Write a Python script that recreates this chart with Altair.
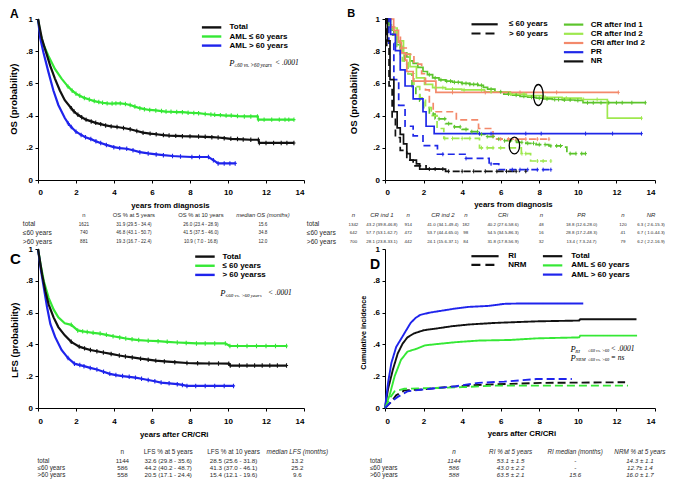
import altair as alt
import pandas as pd

SANS = "Liberation Sans"
SERIF = "Liberation Serif"
BLACK = "#111111"
GREEN = "#35e835"
BLUE = "#1f24ec"

# ================= Panel A : OS by age =================
A_groups = ["Total", "AML ≤ 60 years", "AML > 60 years"]
A_total_t = [0, 0.2, 0.38, 0.64, 0.89, 1.15, 1.41, 1.75, 1.9, 2.1, 2.3, 2.53, 2.8, 3.04, 3.3, 3.56, 3.85, 4.16, 4.5, 4.85,
             5.2, 5.53, 5.9, 6.22, 6.6, 6.9, 7.25, 7.6, 8.0, 8.45, 8.8, 9.15, 9.48, 9.8, 10.15, 10.5, 10.8, 11.2, 11.6, 11.65,
             12.0, 12.4, 12.8, 13.1, 13.47]
A_total_s = [1.0, 0.88, 0.81, 0.71, 0.63, 0.556, 0.496, 0.446, 0.425, 0.405, 0.39, 0.375, 0.364, 0.355, 0.347, 0.339, 0.333,
             0.329, 0.323, 0.315, 0.304, 0.294, 0.288, 0.284, 0.279, 0.276, 0.274, 0.272, 0.271, 0.27, 0.268, 0.266, 0.264,
             0.26, 0.256, 0.254, 0.252, 0.25, 0.25, 0.23, 0.23, 0.23, 0.23, 0.23, 0.23]
A_le60_t = [0, 0.12, 0.29, 0.55, 0.89, 1.24, 1.58, 1.8, 2.0, 2.2, 2.44, 2.7, 2.96, 3.2, 3.4, 3.64, 3.9, 4.1, 4.33, 4.6, 4.85,
            5.1, 5.36, 5.6, 5.88, 6.2, 6.5, 6.74, 7.0, 7.3, 7.6, 7.9, 8.2, 8.45, 8.8, 9.1, 9.3, 9.6, 9.9, 10.17, 10.5, 10.86,
            11.2, 11.55, 11.6, 11.9, 12.3, 12.7, 13.0, 13.2, 13.47]
A_le60_s = [1.0, 0.91, 0.84, 0.77, 0.69, 0.63, 0.58, 0.555, 0.536, 0.523, 0.51, 0.50, 0.49, 0.484, 0.48, 0.476, 0.475, 0.476,
            0.476, 0.472, 0.466, 0.456, 0.446, 0.44, 0.435, 0.432, 0.428, 0.425, 0.424, 0.422, 0.421, 0.418, 0.416, 0.415,
            0.41, 0.407, 0.405, 0.403, 0.40, 0.40, 0.397, 0.395, 0.395, 0.395, 0.375, 0.375, 0.375, 0.375, 0.375, 0.375, 0.375]
A_gt60_t = [0, 0.12, 0.29, 0.55, 0.81, 1.07, 1.41, 1.6, 1.75, 2.0, 2.27, 2.5, 2.78, 3.05, 3.3, 3.6, 3.99, 4.3, 4.67, 5.0,
            5.36, 5.8, 6.22, 6.6, 7.08, 7.5, 8.1, 8.5, 8.97, 9.23, 9.48, 9.8, 10.1, 10.38]
A_gt60_s = [1.0, 0.88, 0.79, 0.67, 0.556, 0.466, 0.385, 0.35, 0.329, 0.30, 0.28, 0.265, 0.254, 0.24, 0.23, 0.218, 0.204,
            0.198, 0.194, 0.185, 0.173, 0.165, 0.159, 0.154, 0.149, 0.146, 0.143, 0.143, 0.143, 0.123, 0.103, 0.103, 0.103, 0.103]
A_head = ["n", "OS % at 5 years", "OS % at 10 years", "median OS (months)"]
A_rows = ["total", "≤60 years", ">60 years"]
A_n = ["1621", "740", "881"]
A_os5 = ["31.9 (29.5 - 34.4)", "46.8 (43.1 - 50.7)", "19.3 (16.7 - 22.4)"]
A_os10 = ["26.0 (23.4 - 28.9)", "41.5 (37.5 - 46.0)", "10.9 ( 7.0 - 16.8)"]
A_med = ["15.6", "34.8", "12.0"]

# ================= Panel B : OS by response =================
B_resp = ["CR after Ind 1", "CR after Ind 2", "CRi after Ind 2", "PR", "NR"]
B_resp_colors = ["#5cc42c", "#9ee84e", "#f3896b", "#1f28e8", "#111111"]
B_age = ["≤ 60 years", "> 60 years"]
B_cr1_le60_t = [0, 0.2, 0.33, 0.46, 0.6, 0.79, 0.95, 1.13, 1.3, 1.46, 1.7, 1.97, 2.2, 2.47, 2.8, 3.14, 3.5, 3.98, 4.4, 4.82,
                5.1, 5.32, 5.7, 6.16, 6.6, 7.0, 7.4, 7.84, 8.2, 8.68, 9.2, 9.85, 10.27, 13.5]
B_cr1_le60_s = [1.0, 0.964, 0.93, 0.904, 0.86, 0.824, 0.79, 0.764, 0.74, 0.724, 0.70, 0.674, 0.654, 0.634, 0.622, 0.614,
                0.607, 0.60, 0.594, 0.588, 0.575, 0.564, 0.548, 0.534, 0.527, 0.52, 0.514, 0.508, 0.504, 0.50, 0.497, 0.494,
                0.48, 0.48]
B_cr1_gt60_t = [0, 0.2, 0.4, 0.6, 0.8, 1.0, 1.2, 1.4, 1.6, 1.8, 2.0, 2.3, 2.6, 3.14, 3.6, 4.0, 4.4, 4.82, 5.2, 5.66, 6.2,
                6.83, 7.3, 7.83, 8.5, 9.18, 9.43, 10.4]
B_cr1_gt60_s = [1.0, 0.95, 0.9, 0.84, 0.78, 0.72, 0.66, 0.58, 0.53, 0.49, 0.45, 0.41, 0.38, 0.35, 0.33, 0.314, 0.30, 0.284,
                0.27, 0.254, 0.244, 0.234, 0.228, 0.22, 0.212, 0.204, 0.164, 0.164]
B_cr2_le60_t = [0, 0.29, 0.63, 0.96, 1.3, 1.63, 2.05, 2.47, 3.14, 3.98, 5.16, 6.5, 7.33, 8.17, 9.18, 10.19, 11.53, 13.3]
B_cr2_le60_s = [1.0, 0.944, 0.864, 0.784, 0.704, 0.634, 0.594, 0.574, 0.564, 0.56, 0.548, 0.534, 0.524, 0.514, 0.508, 0.50,
                0.384, 0.384]
B_cr2_gt60_t = [0, 0.3, 0.6, 0.9, 1.2, 1.5, 1.8, 2.1, 2.4, 2.7, 3.05, 4.9, 7.07, 7.55, 8.6]
B_cr2_gt60_s = [1.0, 0.92, 0.83, 0.74, 0.66, 0.58, 0.51, 0.45, 0.40, 0.32, 0.258, 0.20, 0.164, 0.118, 0.118]
B_cri_le60_t = [0, 0.45, 0.7, 0.85, 1.05, 1.13, 1.46, 2.64, 12.1]
B_cri_le60_s = [1.0, 0.93, 0.854, 0.79, 0.744, 0.674, 0.614, 0.544, 0.544]
B_cri_gt60_t = [0, 0.3, 0.5, 0.8, 1.1, 1.5, 1.9, 2.1, 2.3, 2.5, 3.7, 4.85, 5.6, 8.5]
B_cri_gt60_s = [1.0, 0.95, 0.9, 0.82, 0.78, 0.72, 0.66, 0.56, 0.48, 0.424, 0.374, 0.32, 0.254, 0.254]
B_pr_le60_t = [0, 0.29, 0.54, 0.79, 1.04, 1.46, 1.97, 2.13, 2.55, 13.3]
B_pr_le60_s = [1.0, 0.904, 0.804, 0.684, 0.584, 0.504, 0.424, 0.334, 0.288, 0.288]
B_pr_gt60_t = [0, 0.2, 0.46, 0.71, 1.04, 1.46, 1.97, 2.72, 4.15, 5.4, 5.9, 8.6]
B_pr_gt60_s = [1.0, 0.85, 0.624, 0.464, 0.334, 0.274, 0.214, 0.16, 0.134, 0.10, 0.064, 0.064]
B_nr_le60_t = [0, 0.12, 0.26, 0.46, 0.63, 0.79, 0.96, 1.13, 1.3, 1.63, 1.8, 3.05]
B_nr_le60_s = [1.0, 0.864, 0.624, 0.424, 0.324, 0.284, 0.224, 0.164, 0.124, 0.10, 0.068, 0.068]
B_nr_gt60_t = [0, 0.09, 0.21, 0.37, 0.54, 0.79, 1.13, 1.46, 2.13, 3.14, 7.0]
B_nr_gt60_s = [1.0, 0.824, 0.584, 0.384, 0.264, 0.184, 0.124, 0.088, 0.068, 0.054, 0.054]
# censoring times
B_cr1_le60_c = [2.3, 2.6, 2.9, 3.2, 3.4, 3.6, 3.8, 4.0, 4.2, 4.4, 4.6, 4.8, 5.0, 5.5, 6.0, 6.4, 6.8, 7.2, 7.6, 8.0, 8.4, 8.8,
                9.0, 9.3, 9.6, 10.0, 10.5, 10.8, 11.2, 11.6, 12.0, 12.3, 12.8, 13.5]
B_cr1_gt60_c = [2.5, 2.8, 3.1, 3.3, 3.6, 3.9, 4.2, 4.5, 4.8, 5.0, 5.3, 5.6, 5.9, 6.2, 6.5, 6.8, 7.1, 7.4, 7.7, 8.0, 8.3, 8.6,
                8.9, 9.1, 9.6, 9.9, 10.2, 10.4]
B_cr2_le60_c = [2.6, 3.0, 3.5, 4.1, 5.0, 5.5, 6.5, 7.2, 8.3, 9.4, 10.3, 11.0, 13.3]
B_cr2_gt60_c = [3.1, 3.5, 4.0, 4.4, 5.0, 5.3, 5.6, 6.0, 7.1, 7.3, 7.9, 8.2, 8.6]
B_cri_le60_c = [3.5, 5.2, 7.0, 8.9, 12.1]
B_cri_gt60_c = [6.0, 6.4, 6.8, 7.3, 7.9, 8.5]
B_pr_le60_c = [4.9, 5.5, 7.3, 8.1, 10.4, 11.8, 13.3]
B_pr_gt60_c = [3.0, 4.2, 5.5, 6.6, 7.0, 7.4, 7.9, 8.2, 8.6]
B_nr_le60_c = [2.3, 3.0]
B_nr_gt60_c = [2.6, 3.3, 4.0, 4.6, 5.2, 5.8, 6.3, 6.8, 7.3]
B_marks_t = [7.95, 6.71]
B_marks_s = [0.528, 0.214]
B_head = ["n", "CR ind 1", "n", "CR ind 2", "n", "CRi", "n", "PR", "n", "NR"]
B_rows = ["total", "≤60 years", ">60 years"]
B_n1 = ["1342", "642", "700"]
B_cr1 = ["43.2 (39.8-46.8)", "57.7 (53.1-62.7)", "28.1 (23.8-33.1)"]
B_n2 = ["914", "472", "442"]
B_cr2 = ["41.0 (34.1-49.4)", "53.7 (44.4-65.0)", "24.1 (15.6-37.1)"]
B_n3 = ["182", "98", "84"]
B_cri = ["40.2 (27.6-58.6)", "54.5 (34.5-86.3)", "31.8 (17.8-56.9)"]
B_n4 = ["48", "16", "32"]
B_pr = ["18.8 (12.6-28.0)", "28.8 (17.2-48.3)", "13.4 ( 7.3-24.7)"]
B_n5 = ["120", "41", "79"]
B_nr = ["6.3 ( 2.6-15.3)", "6.7 ( 1.0-44.3)", "6.2 ( 2.2-16.9)"]

# ================= Panel C : LFS by age =================
C_groups = ["Total", "≤ 60 years", "> 60 yearss"]
C_total_t = [0, 0.22, 0.39, 0.56, 0.82, 1.07, 1.41, 1.75, 2.17, 2.45, 2.76, 3.1, 3.44, 3.85, 4.28, 4.6, 4.96, 5.4, 5.8, 6.2,
             6.65, 7.2, 7.84, 8.4, 9.0, 9.5, 10.04, 10.12, 10.6, 11.0, 11.4, 11.8, 12.2, 12.6, 13.08]
C_total_s = [1.0, 0.837, 0.734, 0.652, 0.57, 0.509, 0.457, 0.416, 0.386, 0.375, 0.365, 0.357, 0.349, 0.34, 0.33, 0.324,
             0.318, 0.31, 0.304, 0.298, 0.293, 0.288, 0.283, 0.281, 0.28, 0.28, 0.279, 0.267, 0.267, 0.267, 0.267, 0.267,
             0.267, 0.267, 0.267]
C_le60_t = [0, 0.14, 0.31, 0.56, 0.82, 1.07, 1.41, 1.75, 2.09, 2.35, 2.59, 2.9, 3.27, 3.6, 3.95, 4.3, 4.62, 4.95, 5.3, 5.8,
            6.32, 6.8, 7.33, 7.8, 8.34, 8.8, 9.3, 9.86, 10.1, 10.5, 11.0, 11.5, 12.0, 12.5, 13.08]
C_le60_s = [1.0, 0.90, 0.796, 0.693, 0.62, 0.57, 0.533, 0.523, 0.488, 0.482, 0.478, 0.473, 0.468, 0.46, 0.451, 0.444, 0.437,
            0.432, 0.427, 0.423, 0.42, 0.416, 0.412, 0.409, 0.406, 0.406, 0.406, 0.406, 0.39, 0.39, 0.39, 0.39, 0.39, 0.39, 0.39]
C_gt60_t = [0, 0.14, 0.31, 0.48, 0.65, 0.9, 1.24, 1.58, 1.92, 2.2, 2.42, 2.75, 3.1, 3.45, 3.78, 4.1, 4.45, 4.8, 5.13, 5.45,
            5.8, 6.15, 6.48, 6.9, 7.33, 7.6, 7.84, 8.3, 8.8, 9.3, 9.8, 10.29]
C_gt60_s = [1.0, 0.878, 0.755, 0.632, 0.529, 0.447, 0.365, 0.314, 0.279, 0.27, 0.263, 0.252, 0.242, 0.228, 0.215, 0.207,
            0.201, 0.196, 0.191, 0.184, 0.176, 0.168, 0.16, 0.155, 0.15, 0.145, 0.139, 0.139, 0.139, 0.139, 0.139, 0.139]
C_head = ["n", "LFS % at 5 years", "LFS % at 10 years", "median LFS (months)"]
C_rows = ["total", "≤60 years", ">60 years"]
C_n = ["1144", "586", "558"]
C_l5 = ["32.6 (29.8 - 35.6)", "44.2 (40.2 - 48.7)", "20.5 (17.1 - 24.4)"]
C_l10 = ["28.5 (25.6 - 31.8)", "41.3 (37.0 - 46.1)", "15.4 (12.1 - 19.6)"]
C_med = ["13.2", "25.2", "9.6"]

# ================= Panel D : cumulative incidence =================
D_groups = ["Total", "AML ≤ 60 years", "AML > 60 years"]
D_events = ["RI", "NRM"]
D_ri_total_t = [0, 0.16, 0.41, 0.66, 0.91, 1.16, 1.5, 2.0, 2.67, 3.51, 4.34, 5.68, 7.86, 10.07, 10.12, 13.04]
D_ri_total_v = [0, 0.12, 0.242, 0.343, 0.404, 0.444, 0.469, 0.489, 0.50, 0.515, 0.525, 0.535, 0.545, 0.55, 0.558, 0.558]
D_ri_le60_t = [0, 0.24, 0.5, 0.83, 1.16, 1.67, 2.08, 2.84, 3.67, 4.84, 6.52, 7.85, 10.07, 10.12, 13.07]
D_ri_le60_v = [0, 0.081, 0.20, 0.303, 0.354, 0.374, 0.394, 0.404, 0.414, 0.424, 0.428, 0.438, 0.444, 0.455, 0.455]
D_ri_gt60_t = [0, 0.16, 0.33, 0.58, 0.83, 1.08, 1.33, 1.58, 1.83, 2.33, 2.84, 3.67, 4.34, 5.34, 6.18, 6.85, 10.28]
D_ri_gt60_v = [0, 0.16, 0.283, 0.384, 0.434, 0.485, 0.535, 0.566, 0.586, 0.60, 0.61, 0.626, 0.636, 0.642, 0.655, 0.657, 0.657]
D_nrm_total_t = [0, 0.33, 0.58, 1.0, 2.0, 3.17, 4.84, 6.52, 8.19, 12.45]
D_nrm_total_v = [0, 0.04, 0.08, 0.111, 0.117, 0.131, 0.145, 0.152, 0.158, 0.162]
D_nrm_le60_t = [0, 0.24, 0.5, 1.0, 2.33, 4.0, 5.68, 7.36, 12.6]
D_nrm_le60_v = [0, 0.06, 0.105, 0.121, 0.125, 0.131, 0.141, 0.141, 0.141]
D_nrm_gt60_t = [0, 0.33, 0.66, 1.16, 2.33, 3.67, 4.84, 6.18, 7.86, 9.69]
D_nrm_gt60_v = [0, 0.04, 0.07, 0.105, 0.121, 0.137, 0.158, 0.166, 0.182, 0.182]
D_head = ["n", "RI % at  5 years", "RI median (months)", "NRM % at  5 years"]
D_rows = ["total", "≤60 years", ">60 years"]
D_n = ["1144", "586", "588"]
D_ri5 = ["53.1 ± 1.5", "43.0 ± 2.2", "63.5 ± 2.1"]
D_rimed = ["-", "-", "15.6"]
D_nrm5 = ["14.3 ± 1.1", "12.7± 1.4", "16.0 ± 1.7"]

# ================= helpers =================
ONE = pd.DataFrame({"k": [0]})
PLUS = "M0,-1V1M-0.7,0H0.7"


def frame(t, s, **keys):
    d = pd.DataFrame({"t": t, "s": s})
    d["i"] = range(len(t))
    for k, v in keys.items():
        d[k] = v
    return d


def held(t, s, times):
    out = []
    for c in times:
        v = s[0]
        for tk, sk in zip(t, s):
            if tk <= c:
                v = sk
        out.append(v)
    return out


def txt(text, x, y, size=8, weight="bold", style="normal", align="left", font=SANS, baseline="middle", color="#000"):
    return alt.Chart(ONE).mark_text(align=align, baseline=baseline, font=font, fontSize=size, fontWeight=weight,
                                    fontStyle=style, color=color).encode(
        x=alt.value(x), y=alt.value(y), text=alt.value(text))


def col(lines, x, y_first, size, lh, style="normal", align="center", color="#2a2a2a"):
    return alt.Chart(ONE).mark_text(align=align, baseline="alphabetic", font=SANS, fontSize=size, fontStyle=style,
                                    lineHeight=lh, color=color).encode(
        x=alt.value(x), y=alt.value(y_first + 0.36 * size), text=alt.value(list(lines)))


def swatch(x0, x1, y, color, width=2.2, dash=None):
    kw = dict(color=color, strokeWidth=width)
    if dash:
        kw["strokeDash"] = dash
    return alt.Chart(ONE).mark_rule(**kw).encode(x=alt.value(x0), x2=alt.value(x1), y=alt.value(y))


def axes(h, xtitle, xt_x, xt_y, ytitle, yt_x, yt_y, yt_size, lab_pad):
    x = alt.X("t:Q", scale=alt.Scale(domain=[0, 14], nice=False, zero=False),
              axis=alt.Axis(values=list(range(0, 15, 2)), format="d", title=xtitle, titleX=xt_x, titleY=xt_y,
                            titleBaseline="middle", titleFontSize=7.8, labelPadding=lab_pad))
    y = alt.Y("s:Q", scale=alt.Scale(domain=[0, 1], nice=False),
              axis=alt.Axis(values=[0, 0.2, 0.4, 0.6, 0.8, 1], format=".1~f",
                            labelExpr="replace(datum.label, '0.', '.')", title=ytitle, titleX=yt_x, titleY=yt_y,
                            titleBaseline="middle", titleFontSize=yt_size, labelPadding=2.5))
    return x, y


W1, W2, H1, H2 = 266, 270, 161, 159

# ================= Panel A =================
dfA = pd.concat([frame(A_le60_t, A_le60_s, g=A_groups[1]), frame(A_gt60_t, A_gt60_s, g=A_groups[2]),
                 frame(A_total_t, A_total_s, g=A_groups[0])])
scA = alt.Scale(domain=A_groups, range=[BLACK, GREEN, BLUE])
xA, yA = axes(H1, "years from diagnosis", 132, 25, "OS (probability)", -24.3, 79.7, 9.5, 5.5)
layA = [
    alt.Chart(dfA).mark_line(strokeWidth=2.2).encode(x=xA, y=yA, color=alt.Color("g:N", scale=scA, legend=None),
                                                      detail="g:N", order="i:Q"),
    alt.Chart(dfA[dfA["t"] >= 1.5]).mark_point(shape=PLUS, size=20, filled=False, strokeWidth=1.1, opacity=1).encode(
        x=xA, y=yA, color=alt.Color("g:N", scale=scA, legend=None)),
]
for k, (g, c) in enumerate(zip(A_groups, [BLACK, GREEN, BLUE])):
    yy = 8.4 + 9.1 * k
    layA += [swatch(163.9, 183.3, yy, c, 2.4), txt(g, 191.5, yy)]
layA += [txt("P", 191.2, 44, 8.5, "normal", "italic", font=SERIF),
         txt("≤60 vs. >60 years", 196.3, 45.6, 5.2, "normal", "italic", font=SERIF),
         txt("< .0001", 237, 44, 7.5, "normal", "italic", font=SERIF)]
hy, ry, lh = H1 + 35.3, H1 + 44.0, 8.6
layA += [col(A_rows, -15.2, ry, 6.6, lh, align="left"),
         txt(A_head[0], 45.9, hy, 5.8, "normal", color="#2a2a2a", align="center"),
         txt(A_head[1], 95.9, hy, 5.8, "normal", color="#2a2a2a", align="center"),
         txt(A_head[2], 162.9, hy, 5.8, "normal", color="#2a2a2a", align="center"),
         txt(A_head[3], 224.9, hy, 5.8, "normal", "italic", color="#2a2a2a", align="center"),
         col(A_n, 45.9, ry, 4.6, lh), col(A_os5, 95.9, ry, 4.6, lh), col(A_os10, 162.9, ry, 4.6, lh),
         col(A_med, 224.9, ry, 4.6, lh),
         txt("A", -28, -0.9, 12, baseline="alphabetic")]
panelA = alt.layer(*layA).properties(width=W1, height=H1)

# ================= Panel B =================
B_sets = [
    (0, 0, B_cr1_le60_t, B_cr1_le60_s, B_cr1_le60_c), (0, 1, B_cr1_gt60_t, B_cr1_gt60_s, B_cr1_gt60_c),
    (1, 0, B_cr2_le60_t, B_cr2_le60_s, B_cr2_le60_c), (1, 1, B_cr2_gt60_t, B_cr2_gt60_s, B_cr2_gt60_c),
    (2, 0, B_cri_le60_t, B_cri_le60_s, B_cri_le60_c), (2, 1, B_cri_gt60_t, B_cri_gt60_s, B_cri_gt60_c),
    (3, 0, B_pr_le60_t, B_pr_le60_s, B_pr_le60_c), (3, 1, B_pr_gt60_t, B_pr_gt60_s, B_pr_gt60_c),
    (4, 0, B_nr_le60_t, B_nr_le60_s, B_nr_le60_c), (4, 1, B_nr_gt60_t, B_nr_gt60_s, B_nr_gt60_c),
]
dfB = pd.concat([frame(t, s, r=B_resp[ri], a=B_age[ai], key=f"{ri}-{ai}") for ri, ai, t, s, c in B_sets])
cenB = pd.concat([pd.DataFrame({"t": c, "s": held(t, s, c), "r": B_resp[ri]}) for ri, ai, t, s, c in B_sets])
scB = alt.Scale(domain=B_resp, range=B_resp_colors)
xB, yB = axes(H1, "years from diagnosis", 128, 24, "OS (probability)", -31.9, 79.1, 9.5, 5.5)
mkB = pd.DataFrame({"t": B_marks_t, "s": B_marks_s})
layB = [
    alt.Chart(dfB).mark_line(strokeWidth=1.7, interpolate="step-after").encode(
        x=xB, y=yB, color=alt.Color("r:N", scale=scB, legend=None),
        strokeDash=alt.StrokeDash("a:N", scale=alt.Scale(domain=B_age, range=[[1, 0], [7, 4]]), legend=None),
        detail="key:N", order="i:Q"),
    alt.Chart(cenB).mark_point(shape=PLUS, size=16, filled=False, strokeWidth=1, opacity=1).encode(
        x=xB, y=yB, color=alt.Color("r:N", scale=scB, legend=None)),
    alt.Chart(mkB.iloc[[0]]).mark_point(shape="M0,-1A0.46,1 0 1,1 0,1A0.46,1 0 1,1 0,-1Z", size=441, filled=False,
                                        color="black", strokeWidth=1.3, opacity=1).encode(x=xB, y=yB),
    alt.Chart(mkB.iloc[[1]]).mark_point(shape="M0,-1A0.62,1 0 1,1 0,1A0.62,1 0 1,1 0,-1Z", size=282, filled=False,
                                        color="black", strokeWidth=1.3, opacity=1).encode(x=xB, y=yB),
]
layB += [swatch(86.5, 112.7, 5.3, BLACK, 2.2), txt(B_age[0], 124, 5.3),
         swatch(86.5, 112.7, 14.5, BLACK, 2.2, [9, 5]), txt(B_age[1], 124, 14.5)]
for k, (g, c) in enumerate(zip(B_resp, B_resp_colors)):
    yy = 5.6 + 9.2 * k
    layB += [swatch(178.9, 198.3, yy, c, 2.2), txt(g, 205.7, yy)]
B_cols = [(B_n1, -31.6), (B_cr1, -3.1), (B_n2, 23.2), (B_cr2, 57.8), (B_n3, 80.8), (B_cri, 118), (B_n4, 156.3),
          (B_pr, 196.5), (B_n5, 238), (B_nr, 266)]
layB += [col(B_rows, -78.2, ry, 6.6, lh, align="left")]
for (vals, xx), h in zip(B_cols, B_head):
    layB += [txt(h, xx, hy, 6.0, "normal", "italic", color="#2a2a2a", align="center"), col(vals, xx, ry, 4.4, lh)]
layB += [txt("B", -37.7, -1.9, 11, baseline="alphabetic")]
panelB = alt.layer(*layB).properties(width=W2, height=H1)

# ================= Panel C =================
dfC = pd.concat([frame(C_le60_t, C_le60_s, g=C_groups[1]), frame(C_gt60_t, C_gt60_s, g=C_groups[2]),
                 frame(C_total_t, C_total_s, g=C_groups[0])])
scC = alt.Scale(domain=C_groups, range=[BLACK, GREEN, BLUE])
xC, yC = axes(H2, "years after CR/CRi", 135.7, 26.6, "LFS (probability)", -23.4, 90.8, 9.5, 6.2)
layC = [
    alt.Chart(dfC).mark_line(strokeWidth=2.2).encode(x=xC, y=yC, color=alt.Color("g:N", scale=scC, legend=None),
                                                      detail="g:N", order="i:Q"),
    alt.Chart(dfC[dfC["t"] >= 1.5]).mark_point(shape=PLUS, size=20, filled=False, strokeWidth=1.1, opacity=1).encode(
        x=xC, y=yC, color=alt.Color("g:N", scale=scC, legend=None)),
]
for k, (g, c) in enumerate(zip(C_groups, [BLACK, GREEN, BLUE])):
    yy = 7.6 + 9.15 * k
    layC += [swatch(157.2, 176.7, yy, c, 2.4), txt(g, 184.4, yy)]
layC += [txt("P", 182.3, 44.3, 8.5, "normal", "italic", font=SERIF),
         txt("≤60 vs. >60 years", 187.5, 45.9, 5.0, "normal", "italic", font=SERIF),
         txt("< .0001", 230, 44.3, 7.5, "normal", "italic", font=SERIF)]
hy2, ry2, lh2 = H2 + 44.4, H2 + 52.6, 7.0
layC += [col(C_rows, -0.5, ry2, 6.3, lh2, align="left"),
         txt(C_head[0], 84.4, hy2, 6.4, "normal", color="#2a2a2a", align="center"),
         txt(C_head[1], 130.2, hy2, 6.4, "normal", color="#2a2a2a", align="center"),
         txt(C_head[2], 195.6, hy2, 6.4, "normal", color="#2a2a2a", align="center"),
         txt(C_head[3], 259.3, hy2, 6.4, "normal", "italic", color="#2a2a2a", align="center"),
         col(C_n, 84.4, ry2, 6.2, lh2), col(C_l5, 130.2, ry2, 6.2, lh2), col(C_l10, 195.6, ry2, 6.2, lh2),
         col(C_med, 259.3, ry2, 6.2, lh2),
         txt("C", -28, 15, 15, baseline="alphabetic")]
panelC = alt.layer(*layC).properties(width=W1, height=H2)

# ================= Panel D =================
D_sets = [(0, 0, D_ri_total_t, D_ri_total_v), (1, 0, D_ri_le60_t, D_ri_le60_v), (2, 0, D_ri_gt60_t, D_ri_gt60_v),
          (0, 1, D_nrm_total_t, D_nrm_total_v), (1, 1, D_nrm_le60_t, D_nrm_le60_v), (2, 1, D_nrm_gt60_t, D_nrm_gt60_v)]
dfD = pd.concat([frame(t, v, g=D_groups[gi], e=D_events[ei], key=f"{gi}-{ei}") for gi, ei, t, v in D_sets])
scD = alt.Scale(domain=D_groups, range=[BLACK, GREEN, BLUE])
xD, yD = axes(H2, "years after CR/CRi", 136.4, 25.6, "Cumulative incidence", -21.2, 83.3, 7.2, 6.2)
layD = [
    alt.Chart(dfD).mark_line(strokeWidth=1.9).encode(
        x=xD, y=yD, color=alt.Color("g:N", scale=scD, legend=None),
        strokeDash=alt.StrokeDash("e:N", scale=alt.Scale(domain=D_events, range=[[1, 0], [8, 4]]), legend=None),
        detail="key:N", order="i:Q"),
]
layD += [swatch(86.4, 113.6, 7.2, BLACK, 2.2), txt(D_events[0], 123.3, 7.2),
         swatch(86.4, 113.6, 15.9, BLACK, 2.2, [9, 5]), txt(D_events[1], 123.3, 15.9)]
for k, (g, c) in enumerate(zip(D_groups, [BLACK, GREEN, BLUE])):
    yy = 7.2 + 9.2 * k
    layD += [swatch(157.9, 177.3, yy, c, 2.2), txt(g, 186.3, yy)]
layD += [txt("P", 185.4, 100.3, 8.5, "normal", "italic", font=SERIF),
         txt("RI", 190.2, 101.8, 5.0, "normal", "italic", font=SERIF),
         txt("≤60 vs. >60", 203.1, 101.8, 4.4, "normal", "italic", font=SERIF),
         txt("< .0001", 225.8, 100.3, 7.5, "normal", "italic", font=SERIF),
         txt("P", 185.4, 109.0, 8.5, "normal", "italic", font=SERIF),
         txt("NRM", 190.8, 110.5, 4.6, "normal", "italic", font=SERIF),
         txt("≤60 vs. >60", 203.1, 110.5, 4.4, "normal", "italic", font=SERIF),
         txt("= ns", 225.8, 109.0, 7.5, "normal", "italic", font=SERIF)]
layD += [col(D_rows, -15.1, ry2, 6.3, lh2, align="left")]
for vals, h, xx in zip([D_n, D_ri5, D_rimed, D_nrm5], D_head, [69, 125.6, 190.2, 254.9]):
    layD += [txt(h, xx, hy2, 6.3, "normal", "italic", color="#2a2a2a", align="center"),
             col(vals, xx, ry2, 6.2, lh2, style="italic")]
layD += [txt("D", -15, 19.8, 14, baseline="alphabetic")]
panelD = alt.layer(*layD).properties(width=W2, height=H2)

chart = alt.concat(panelA, panelB, panelC, panelD, columns=2, spacing={"row": 69, "column": 81},
                   bounds="flush", align="each").resolve_scale(
    x="independent", y="independent", color="independent", strokeDash="independent"
).properties(padding=0).configure_view(stroke=None).configure_axis(
    grid=False, domainColor="#000", domainWidth=1, tickColor="#000", tickSize=3, labelFont=SANS, labelFontSize=8,
    labelFontWeight="bold", labelColor="#000", titleFont=SANS, titleFontWeight="bold", titleColor="#000")

chart.save("out.html", embed_options={"renderer": "svg", "actions": False})
